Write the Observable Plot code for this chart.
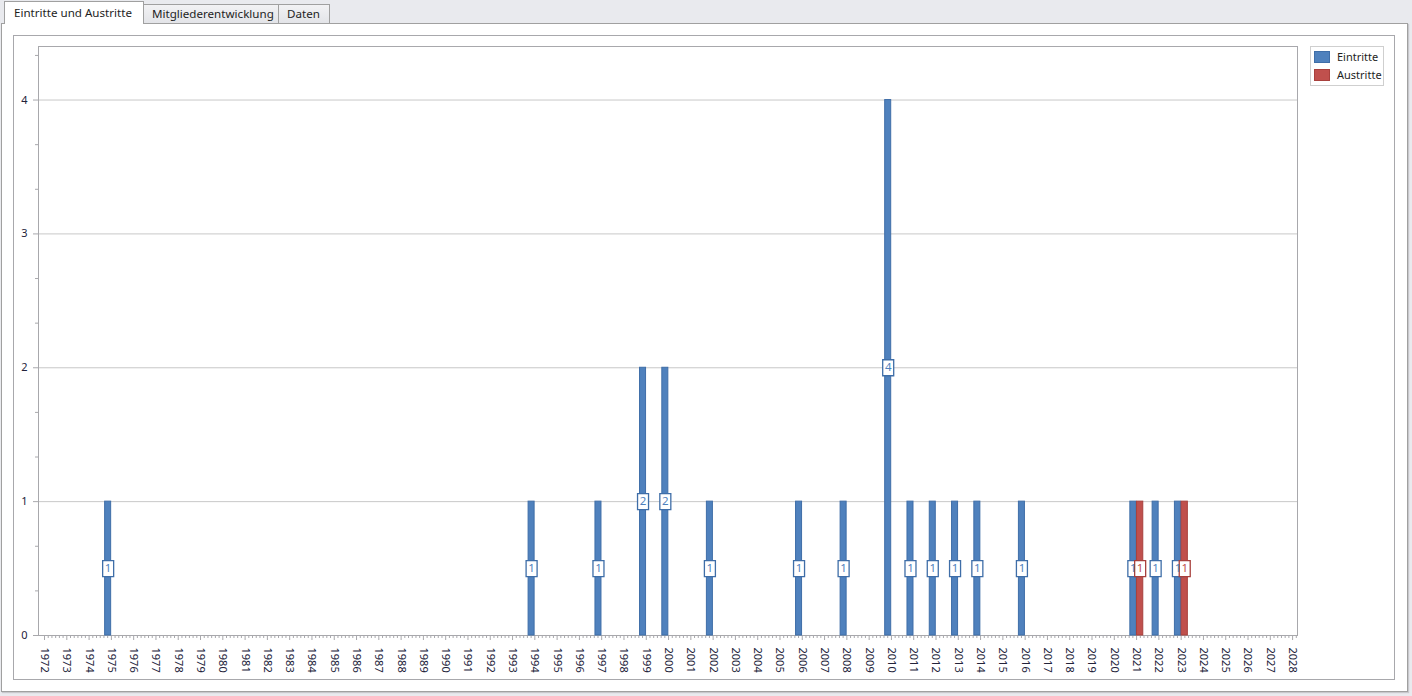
<!DOCTYPE html>
<html>
<head>
<meta charset="utf-8">
<script src="https://cdn.jsdelivr.net/npm/d3@7"></script>
<script src="https://cdn.jsdelivr.net/npm/@observablehq/plot@0.6"></script>
<style>
  html, body { margin: 0; padding: 0; }
  body { width: 1412px; height: 696px; overflow: hidden; background: #e9eaee; font-family: "Noto Sans", "Open Sans", sans-serif; position: relative; }
  .tab { position: absolute; box-sizing: border-box; border: 1px solid #a0a0a0; border-bottom: none; font-size: 11.6px; color: #1e1e1e; white-space: nowrap; overflow: hidden; }
  .tab.inactive { background: linear-gradient(#f2f2f4, #e3e4e8); top: 4px; height: 19px; line-height: 17px; padding-left: 8px; }
  .tab.active { background: #fff; top: 1px; height: 23px; line-height: 22px; padding-left: 9px; z-index: 3; }
  #content { position: absolute; left: 1px; top: 23px; width: 1407px; height: 669px; box-sizing: border-box; background: #fff; border: 1px solid #a0a0a0; box-shadow: 1px 1px 1px #c8c8cc; }
  #panel { position: absolute; left: 13px; top: 35px; width: 1382px; height: 645px; box-sizing: border-box; border: 1px solid #a8a8ac; background: #fff; }
  #chart { position: absolute; left: 0; top: 36px; }
  #legend { position: absolute; left: 1310px; top: 46px; width: 74px; height: 40px; box-sizing: border-box; border: 1px solid #cfcfcf; background: #fff; font-size: 11px; color: #1e1e1e; }
  .li { position: absolute; left: 2px; height: 14px; }
  .sw { position: absolute; left: 1px; top: 0; width: 16px; height: 12px; box-sizing: border-box; }
  .lt { position: absolute; left: 24px; top: -2px; white-space: nowrap; }
</style>
</head>
<body>
<div id="content"></div>
<div class="tab active" style="left:4px;width:140px;">Eintritte und Austritte</div>
<div class="tab inactive" style="left:143px;width:136px;">Mitgliederentwicklung</div>
<div class="tab inactive" style="left:278px;width:52px;">Daten</div>
<div id="panel"></div>
<div id="chart"></div>
<div id="legend"></div>
<script>
// ---- data ----
const years = d3.range(1972, 2029);
const seriesNames = ["Eintritte", "Austritte"];
const seriesColors = ["#4f81bd", "#c0504d"];
const seriesStrokes = ["#3f6ea8", "#a8403d"];
const eintritteYears  = [1975, 1994, 1997, 1999, 2000, 2002, 2006, 2008, 2010, 2011, 2012, 2013, 2014, 2016, 2021, 2022, 2023];
const eintritteValues = [1,    1,    1,    2,    2,    1,    1,    1,    4,    1,    1,    1,    1,    1,    1,    1,    1];
const austritteYears  = [2021, 2023];
const austritteValues = [1,    1];
const yTicks = [0, 1, 2, 3, 4];

// ---- table ----
const rows = [
  ...eintritteYears.map((y, i) => ({series: 0, year: y, value: eintritteValues[i]})),
  ...austritteYears.map((y, i) => ({series: 1, year: y, value: austritteValues[i]}))
];
// grouped slot offsets (in years) for the two series
const slot = [[-0.28, -0.01], [0.02, 0.30]];
const center = d => d.year + (slot[d.series][0] + slot[d.series][1]) / 2;

const minorX = d3.range(1972, 2028.3, 1/6).filter(v => Math.abs(v - Math.round(v)) > 1e-6);
const minorY = d3.range(0, 4.4, 1/3).filter(v => Math.abs(v - Math.round(v)) > 1e-6);

const boxSymbol = {
  draw(ctx) {
    ctx.moveTo(-5.5, -8); ctx.lineTo(5.5, -8); ctx.lineTo(5.5, 8); ctx.lineTo(-5.5, 8); ctx.closePath();
  }
};

const chart = Plot.plot({
  width: 1300,
  height: 644,
  marginLeft: 38,
  marginRight: 3,
  marginTop: 10,
  marginBottom: 45,
  style: {fontFamily: "'Noto Sans', sans-serif", background: "transparent", overflow: "visible"},
  x: {type: "linear", domain: [1971.73, 2028.22]},
  y: {domain: [0, 4.4]},
  marks: [
    Plot.gridY([1, 2, 3, 4], {stroke: "#c8c8c8", strokeOpacity: 1}),
    Plot.frame({stroke: "#a8a8ac"}),
    Plot.axisY(minorY, {tickSize: 3, tickFormat: () => "", stroke: "#a8a8ac", label: null}),
    Plot.axisY(yTicks, {tickSize: 5, tickPadding: 6, tickFormat: d => String(d), stroke: "#a8a8ac", fill: "#23233a", fontSize: 11, label: null}),
    Plot.axisX(minorX, {tickSize: 3, tickFormat: () => "", stroke: "#a8a8ac", label: null}),
    Plot.axisX(years, {tickSize: 5, tickPadding: 7, tickRotate: 90, tickFormat: d => String(d), stroke: "#a8a8ac", fill: "#23233a", fontSize: 11, label: null}),
    Plot.rect(rows, {
      x1: d => d.year + slot[d.series][0],
      x2: d => d.year + slot[d.series][1],
      y1: 0, y2: "value",
      fill: d => seriesColors[d.series],
      stroke: d => seriesStrokes[d.series],
      strokeWidth: 1,
      inset: 0
    }),
    Plot.dot(rows, {
      x: center, y: d => d.value / 2,
      symbol: boxSymbol, r: 6,
      fill: "white",
      stroke: d => seriesStrokes[d.series], strokeWidth: 1.3
    }),
    Plot.text(rows, {
      x: center, y: d => d.value / 2,
      text: d => String(d.value),
      fill: d => seriesColors[d.series],
      fontSize: 11.5
    })
  ]
});
document.getElementById("chart").appendChild(chart);

// ---- legend ----
const legend = document.getElementById("legend");
seriesNames.forEach((name, i) => {
  const item = document.createElement("div");
  item.className = "li";
  item.style.top = (4 + i * 18) + "px";
  item.innerHTML = `<div class="sw" style="background:${seriesColors[i]};border:1px solid ${seriesStrokes[i]}"></div><div class="lt">${name}</div>`;
  legend.appendChild(item);
});
</script>
</body>
</html>
